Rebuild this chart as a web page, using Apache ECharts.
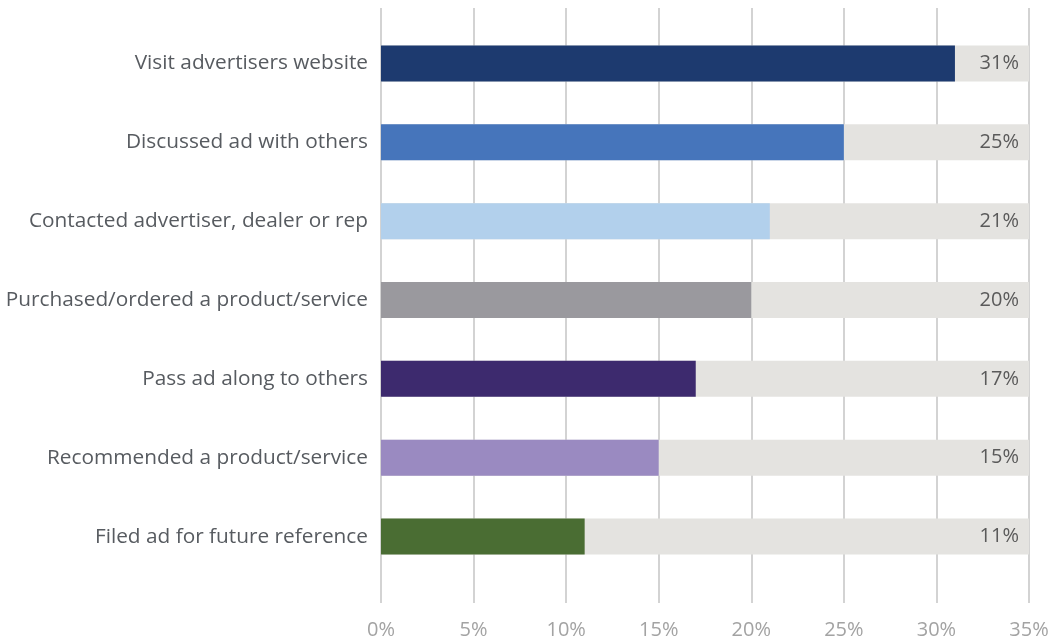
<!DOCTYPE html>
<html>
<head>
<meta charset="utf-8">
<script src="https://cdn.jsdelivr.net/npm/echarts@6/dist/echarts.min.js"></script>
<style>html,body{margin:0;padding:0;background:#fff}#c{width:1052px;height:643px}</style>
</head>
<body>
<div id="c"></div>
<script>
var categories = [
  "Visit advertisers website",
  "Discussed ad with others",
  "Contacted advertiser, dealer or rep",
  "Purchased/ordered a product/service",
  "Pass ad along to others",
  "Recommended a product/service",
  "Filed ad for future reference"
];
var values = [31, 25, 21, 20, 17, 15, 11];
var barColors = ["#1d3a6f", "#4675bb", "#b2d0ec", "#9a999e", "#3d2a6e", "#9a8ac1", "#4a6d33"];
var axisMax = 35;
var axisInterval = 5;

var fontFam = "'Open Sans', 'Noto Sans', sans-serif";
var chart = echarts.init(document.getElementById('c'), null, {renderer: 'canvas'});
chart.setOption({
  animation: false,
  grid: [
    {left: 381, right: 23, top: 8, bottom: 40},
    {left: 381, right: 23, top: 24, bottom: 67}
  ],
  xAxis: [
    {gridIndex: 0, type: 'value', min: 0, max: axisMax, interval: axisInterval,
     axisLine: {show: false}, axisTick: {show: false},
     splitLine: {show: true, lineStyle: {color: '#c4c4c4', width: 1.5}},
     axisLabel: {formatter: '{value}%', color: '#a3a3a3', fontSize: 20, fontFamily: fontFam, margin: 17}},
    {gridIndex: 1, type: 'value', min: 0, max: axisMax, interval: axisInterval, show: false,
     splitLine: {show: false}}
  ],
  yAxis: [
    {gridIndex: 0, type: 'category', data: [''], show: false},
    {gridIndex: 1, type: 'category', data: categories, inverse: true,
     axisLine: {show: false}, axisTick: {show: false},
     axisLabel: {color: '#575b60', fontSize: 20.8, fontFamily: fontFam, margin: 13}}
  ],
  series: [
    {type: 'bar', xAxisIndex: 1, yAxisIndex: 1, barWidth: 36, barGap: '-100%',
     data: values.map(function(){ return axisMax; }),
     itemStyle: {color: '#e4e3e0'}, silent: true, z: 1,
     label: {show: true, position: 'insideRight', distance: 10,
       formatter: function(p){ return values[p.dataIndex] + '%'; },
       color: '#5a5a5a', fontSize: 20, fontFamily: fontFam}},
    {type: 'bar', xAxisIndex: 1, yAxisIndex: 1, barWidth: 36, barGap: '-100%', z: 2,
     data: values.map(function(v, i){ return {value: v, itemStyle: {color: barColors[i]}}; })}
  ]
});
</script>
</body>
</html>
